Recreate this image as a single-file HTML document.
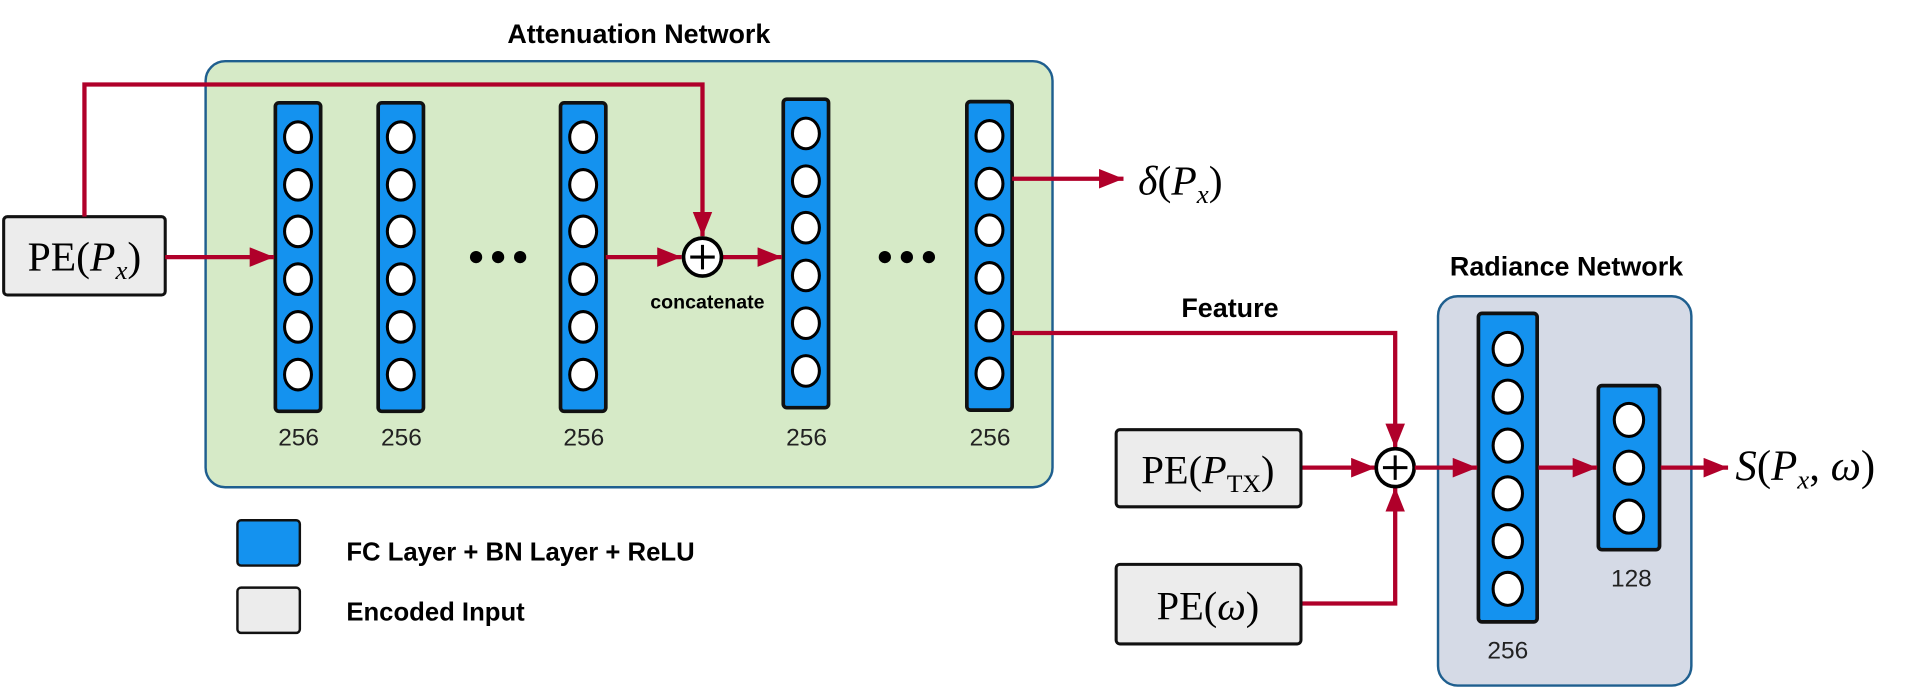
<!DOCTYPE html>
<html><head><meta charset="utf-8"><style>
html,body{margin:0;padding:0;background:#fff;}
svg{display:block}
.t{font-family:"Liberation Sans",sans-serif;}
.m{font-family:"Liberation Serif",serif;}
</style></head><body>
<svg width="1919" height="688" viewBox="0 0 1568 562" preserveAspectRatio="none" xmlns="http://www.w3.org/2000/svg">
<defs>
<marker id="a" viewBox="0 0 20 16" refX="20" refY="8" markerWidth="20" markerHeight="16" orient="auto" markerUnits="userSpaceOnUse"><path d="M0,0 L20,8 L0,16 z" fill="#b0002a"/></marker>
<g id="c6">
<rect x="0" y="0" width="37" height="252" rx="3" fill="#1492ef" stroke="#111" stroke-width="3"/>
<ellipse cx="18.5" cy="28" rx="11" ry="12.5" fill="#fff" stroke="#000" stroke-width="2.5"/>
<ellipse cx="18.5" cy="67" rx="11" ry="12.5" fill="#fff" stroke="#000" stroke-width="2.5"/>
<ellipse cx="18.5" cy="105" rx="11" ry="12.5" fill="#fff" stroke="#000" stroke-width="2.5"/>
<ellipse cx="18.5" cy="144" rx="11" ry="12.5" fill="#fff" stroke="#000" stroke-width="2.5"/>
<ellipse cx="18.5" cy="183" rx="11" ry="12.5" fill="#fff" stroke="#000" stroke-width="2.5"/>
<ellipse cx="18.5" cy="222" rx="11" ry="12.5" fill="#fff" stroke="#000" stroke-width="2.5"/>
</g>
</defs>
<!-- attenuation -->
<text x="522" y="35" text-anchor="middle" class="t" font-weight="bold" font-size="22">Attenuation Network</text>
<rect x="168" y="50" width="692" height="348" rx="16" fill="#d6eac7" stroke="#1f5f8f" stroke-width="2"/>
<rect x="3" y="177" width="132" height="64" rx="3" fill="#ececec" stroke="#111" stroke-width="2.5"/>
<text x="69" y="221" text-anchor="middle" class="m" font-size="34">PE(<tspan font-style="italic">P</tspan><tspan font-style="italic" font-size="22" dy="7">x</tspan><tspan dy="-7">)</tspan></text>
<use href="#c6" x="225" y="84"/>
<use href="#c6" x="309" y="84"/>
<use href="#c6" x="458" y="84"/>
<use href="#c6" x="640" y="81"/>
<use href="#c6" x="790" y="83"/>
<g class="t" font-size="20" text-anchor="middle" fill="#222">
<text x="244" y="364">256</text><text x="328" y="364">256</text><text x="477" y="364">256</text><text x="659" y="364">256</text><text x="809" y="364">256</text>
</g>
<g fill="#000"><circle cx="389" cy="210" r="5"/><circle cx="407" cy="210" r="5"/><circle cx="425" cy="210" r="5"/>
<circle cx="723" cy="210" r="5"/><circle cx="741" cy="210" r="5"/><circle cx="759" cy="210" r="5"/></g>
<g stroke="#b0002a" stroke-width="3.5" fill="none">
<polyline points="69,177 69,69 574,69 574,193" marker-end="url(#a)"/>
<line x1="135" y1="210" x2="224" y2="210" marker-end="url(#a)"/>
<line x1="495" y1="210" x2="557" y2="210" marker-end="url(#a)"/>
<line x1="590" y1="210" x2="639" y2="210" marker-end="url(#a)"/>
<line x1="827" y1="146" x2="918" y2="146" marker-end="url(#a)"/>
<polyline points="827,272 1140,272 1140,366" marker-end="url(#a)"/>
<line x1="1063" y1="382" x2="1124" y2="382" marker-end="url(#a)"/>
<polyline points="1063,493 1140,493 1140,398" marker-end="url(#a)"/>
</g>
<circle cx="574" cy="210" r="15.5" fill="#fff" stroke="#000" stroke-width="3"/>
<path d="M574,200 V220 M564,210 H584" stroke="#000" stroke-width="2.5"/>
<text x="578" y="252" text-anchor="middle" class="t" font-weight="bold" font-size="16">concatenate</text>
<text x="930" y="159" class="m" font-size="34"><tspan font-style="italic">δ</tspan>(<tspan font-style="italic">P</tspan><tspan font-style="italic" font-size="22" dy="7">x</tspan><tspan dy="-7">)</tspan></text>
<text x="1005" y="259" text-anchor="middle" class="t" font-weight="bold" font-size="22">Feature</text>
<!-- radiance -->
<text x="1280" y="225" text-anchor="middle" class="t" font-weight="bold" font-size="22">Radiance Network</text>
<rect x="1175" y="242" width="207" height="318" rx="16" fill="#d5dae6" stroke="#1f5f8f" stroke-width="2"/>
<rect x="912" y="351" width="151" height="63" rx="3" fill="#ececec" stroke="#111" stroke-width="2.5"/>
<text x="987" y="395" text-anchor="middle" class="m" font-size="33">PE(<tspan font-style="italic">P</tspan><tspan font-size="21" dy="7">TX</tspan><tspan dy="-7">)</tspan></text>
<rect x="912" y="461" width="151" height="65" rx="3" fill="#ececec" stroke="#111" stroke-width="2.5"/>
<text x="987" y="506" text-anchor="middle" class="m" font-size="33">PE(<tspan font-style="italic">ω</tspan>)</text>
<circle cx="1140" cy="382" r="15.5" fill="#fff" stroke="#000" stroke-width="3"/>
<path d="M1140,372 V392 M1130,382 H1150" stroke="#000" stroke-width="2.5"/>
<rect x="1208" y="256" width="48" height="252" rx="3" fill="#1492ef" stroke="#111" stroke-width="3"/>
<g fill="#fff" stroke="#000" stroke-width="2.5">
<ellipse cx="1232" cy="285" rx="12" ry="13.5"/><ellipse cx="1232" cy="324" rx="12" ry="13.5"/><ellipse cx="1232" cy="364" rx="12" ry="13.5"/>
<ellipse cx="1232" cy="403" rx="12" ry="13.5"/><ellipse cx="1232" cy="442" rx="12" ry="13.5"/><ellipse cx="1232" cy="481" rx="12" ry="13.5"/>
</g>
<rect x="1306" y="315" width="50" height="134" rx="3" fill="#1492ef" stroke="#111" stroke-width="3"/>
<g fill="#fff" stroke="#000" stroke-width="2.5">
<ellipse cx="1331" cy="343" rx="12" ry="13.5"/><ellipse cx="1331" cy="382" rx="12" ry="13.5"/><ellipse cx="1331" cy="422" rx="12" ry="13.5"/>
</g>
<g stroke="#b0002a" stroke-width="3.5" fill="none">
<line x1="1156" y1="382" x2="1207" y2="382" marker-end="url(#a)"/>
<line x1="1257" y1="382" x2="1305" y2="382" marker-end="url(#a)"/>
<line x1="1357" y1="382" x2="1412" y2="382" marker-end="url(#a)"/>
</g>
<text x="1232" y="538" text-anchor="middle" class="t" font-size="20" fill="#222">256</text>
<text x="1333" y="479" text-anchor="middle" class="t" font-size="20" fill="#222">128</text>
<text x="1418" y="392" class="m" font-size="35"><tspan font-style="italic">S</tspan>(<tspan font-style="italic">P</tspan><tspan font-style="italic" font-size="22" dy="7">x</tspan><tspan dy="-7">, </tspan><tspan font-style="italic">ω</tspan>)</text>
<!-- legend -->
<rect x="194" y="425" width="51" height="37" rx="3" fill="#1492ef" stroke="#111" stroke-width="2"/>
<text x="283" y="458" class="t" font-weight="bold" font-size="21">FC Layer + BN Layer + ReLU</text>
<rect x="194" y="480" width="51" height="37" rx="3" fill="#ececec" stroke="#111" stroke-width="2"/>
<text x="283" y="507" class="t" font-weight="bold" font-size="21">Encoded Input</text>
</svg>
</body></html>
